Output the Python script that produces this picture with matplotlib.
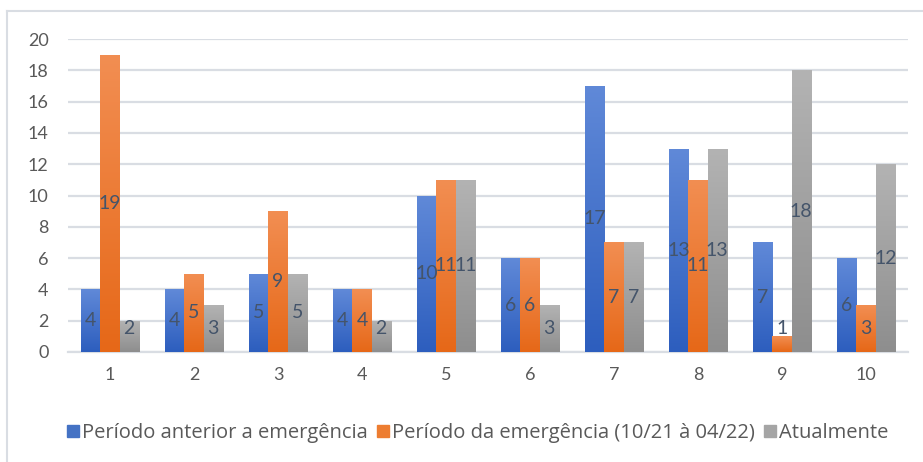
import matplotlib
matplotlib.use("Agg")
import matplotlib.pyplot as plt
import numpy as np
from matplotlib.colors import LinearSegmentedColormap
from matplotlib.lines import Line2D

categories = ["1", "2", "3", "4", "5", "6", "7", "8", "9", "10"]
series_names = ["Período anterior a emergência",
                "Período da emergência (10/21 à 04/22)",
                "Atualmente"]
anterior = [4, 4, 5, 4, 10, 6, 17, 13, 7, 6]
emergencia = [19, 5, 9, 4, 11, 6, 7, 11, 1, 3]
atualmente = [2, 3, 5, 2, 11, 3, 7, 13, 18, 12]
yticks = [0, 2, 4, 6, 8, 10, 12, 14, 16, 18, 20]

series = [anterior, emergencia, atualmente]
base_colors = ["#4472C4", "#ED7D31", "#A5A5A5"]
grad = [("#2D5EBE", "#6089D8"), ("#E66818", "#F28E52"), ("#8E8E8E", "#B3B3B3")]
label_color = "#44546A"
text_color = "#595959"

plt.rcParams['font.family'] = ['Lato', 'DejaVu Sans']

W, H = 923, 462
fig = plt.figure(figsize=(W / 100, H / 100), dpi=100)
ax = fig.add_axes([68 / W, 1 - 352 / H, (908 - 68) / W, (352 - 39) / H])

x = np.arange(len(categories))
bw = 0.229
offsets = [-bw, 0, bw]
for s, vals in enumerate(series):
    cmap = LinearSegmentedColormap.from_list("g%d" % s, [grad[s][0], grad[s][1]])
    bars = ax.bar(x + offsets[s], vals, width=bw, color=base_colors[s], zorder=2,
                  linewidth=0)
    for b, v in zip(bars, vals):
        x0 = b.get_x()
        gimg = np.linspace(0, 1, 100).reshape(-1, 1)
        im = ax.imshow(gimg, cmap=cmap, origin="lower", aspect="auto",
                       extent=[x0, x0 + bw, 0, v], zorder=3, interpolation="bilinear")
        im.set_clip_path(b)
        ax.text(x0 + bw / 2, max(v / 2, 1.5), str(v), ha="center", va="center",
                fontsize=14, color=label_color, zorder=4)

ax.set_xlim(-0.5, len(categories) - 0.5)
ax.set_ylim(0, 20)
ax.set_yticks(yticks)
ax.set_xticks(x)
ax.set_xticklabels(categories)
ax.grid(axis="y", color="#D9DDE3", linewidth=1.6, zorder=0)
ax.set_axisbelow(True)
for sp in ["top", "right", "left"]:
    ax.spines[sp].set_visible(False)
ax.spines["bottom"].set_color("#D9DDE3")
ax.spines["bottom"].set_linewidth(1.6)
ax.tick_params(axis="both", length=0, labelsize=13, colors=text_color)
ax.tick_params(axis="y", pad=14)
ax.tick_params(axis="x", pad=11)

handles = [Line2D([0], [0], marker="s", linestyle="none", markersize=9,
                  markerfacecolor=c, markeredgecolor=c) for c in base_colors]
fig.legend(handles, series_names, loc="center", bbox_to_anchor=(477 / W, 1 - 433 / H),
           ncol=3, frameon=False, labelcolor=text_color,
           prop={"family": ["Open Sans", "DejaVu Sans"], "size": 14.5},
           handletextpad=0.05, columnspacing=0.4, handlelength=0.75)

# chart border (top & left visible)
fig.add_artist(Line2D([7 / W, 7 / W], [0, 1 - 11 / H], transform=fig.transFigure,
                      color="#D9DDE3", linewidth=1.5))
fig.add_artist(Line2D([7 / W, 1], [1 - 11 / H, 1 - 11 / H], transform=fig.transFigure,
                      color="#D9DDE3", linewidth=1.5))

fig.savefig("out.png", dpi=100)
